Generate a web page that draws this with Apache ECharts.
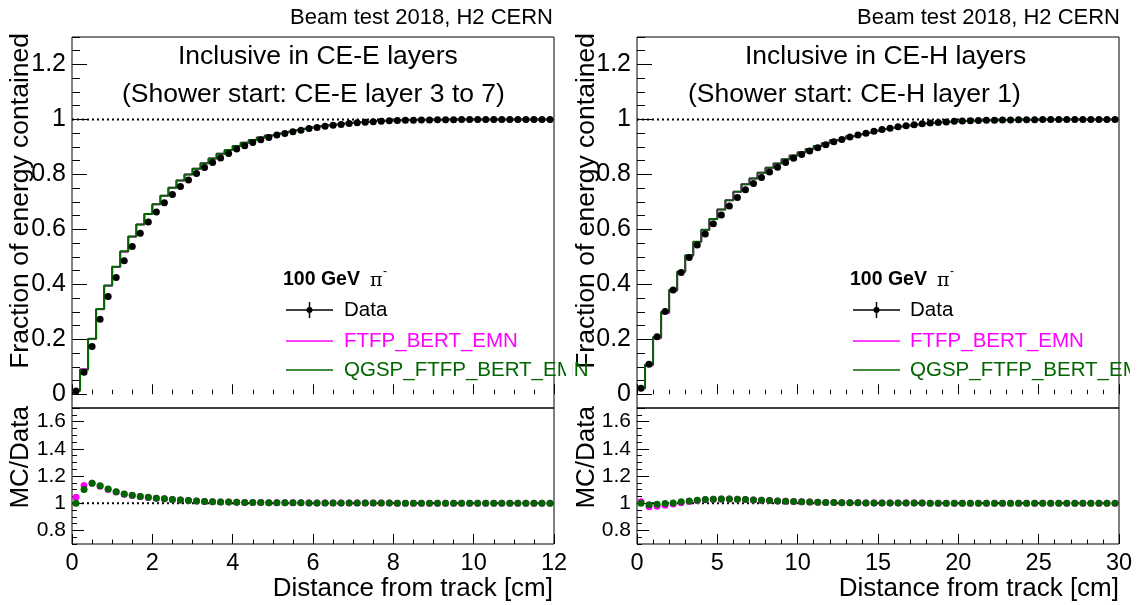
<!DOCTYPE html>
<html>
<head>
<meta charset="utf-8">
<script src="https://cdn.jsdelivr.net/npm/echarts@6/dist/echarts.min.js"></script>
<style>html,body{margin:0;padding:0;background:#fff}#c{width:1138px;height:605px}</style>
</head>
<body>
<div id="c"></div>
<script>
// ---------- DATA ----------
const leftBinWidth = 0.2;   // cm, 60 bins 0..12
const rightBinWidth = 0.5;  // cm, 60 bins 0..30

const leftData = [0.012,0.080,0.174,0.273,0.356,0.425,0.486,0.538,0.586,0.627,
  0.663,0.697,0.727,0.756,0.780,0.803,0.825,0.843,0.860,0.876,
  0.892,0.904,0.916,0.926,0.934,0.943,0.949,0.955,0.961,0.967,
  0.971,0.975,0.979,0.982,0.985,0.988,0.990,0.992,0.993,0.995,
  0.996,0.997,0.997,0.998,0.998,0.999,0.999,0.999,1.000,1.000,
  1.000,1.000,1.000,1.000,1.000,1.000,1.000,1.000,1.000,1.000];
const leftFTFP = [0.013,0.091,0.201,0.309,0.395,0.463,0.519,0.573,0.618,0.656,
  0.691,0.722,0.751,0.778,0.800,0.821,0.841,0.858,0.875,0.889,
  0.903,0.915,0.925,0.934,0.942,0.949,0.955,0.961,0.966,0.971,
  0.975,0.979,0.982,0.985,0.988,0.990,0.992,0.994,0.995,0.996,
  0.997,0.998,0.998,0.999,0.999,0.999,1.000,1.000,1.000,1.000,
  1.000,1.000,1.000,1.000,1.000,1.000,1.000,1.000,1.000,1.000];
const leftQGSP = [0.013,0.089,0.202,0.310,0.396,0.464,0.520,0.574,0.618,0.656,
  0.691,0.722,0.751,0.778,0.800,0.821,0.841,0.858,0.875,0.889,
  0.903,0.915,0.925,0.934,0.942,0.949,0.955,0.961,0.966,0.971,
  0.975,0.979,0.982,0.985,0.988,0.990,0.992,0.994,0.995,0.996,
  0.997,0.998,0.998,0.999,0.999,0.999,1.000,1.000,1.000,1.000,
  1.000,1.000,1.000,1.000,1.000,1.000,1.000,1.000,1.000,1.000];
const leftRatioFTFP = [1.043,1.130,1.147,1.125,1.101,1.082,1.066,1.057,1.049,1.042,
  1.037,1.032,1.027,1.023,1.019,1.016,1.013,1.011,1.009,1.008,
  1.007,1.006,1.005,1.005,1.004,1.004,1.003,1.003,1.003,1.002,
  1.002,1.002,1.002,1.001,1.001,1.001,1.001,1.001,1.001,1.001,
  1.000,1.000,1.000,1.000,1.000,1.000,1.000,1.000,1.000,1.000,
  1.000,1.000,1.000,1.000,1.000,1.000,1.000,1.000,1.000,1.000];
const leftRatioQGSP = [1.000,1.100,1.147,1.128,1.104,1.084,1.067,1.058,1.050,1.043,
  1.037,1.032,1.027,1.023,1.019,1.016,1.013,1.011,1.009,1.008,
  1.007,1.006,1.005,1.005,1.004,1.004,1.003,1.003,1.003,1.002,
  1.002,1.002,1.002,1.001,1.001,1.001,1.001,1.001,1.001,1.001,
  1.000,1.000,1.000,1.000,1.000,1.000,1.000,1.000,1.000,1.000,
  1.000,1.000,1.000,1.000,1.000,1.000,1.000,1.000,1.000,1.000];

const rightData = [0.022,0.109,0.209,0.301,0.379,0.443,0.498,0.543,0.583,0.620,
  0.652,0.685,0.716,0.744,0.767,0.789,0.809,0.826,0.843,0.859,
  0.872,0.885,0.897,0.908,0.919,0.927,0.936,0.943,0.950,0.957,
  0.963,0.968,0.973,0.977,0.981,0.984,0.987,0.989,0.991,0.993,
  0.994,0.995,0.996,0.997,0.997,0.998,0.998,0.999,0.999,0.999,
  1.000,1.000,1.000,1.000,1.000,1.000,1.000,1.000,1.000,1.000];
const rightFTFP = [0.022,0.106,0.204,0.296,0.377,0.445,0.504,0.554,0.598,0.638,
  0.672,0.706,0.737,0.764,0.785,0.806,0.824,0.840,0.855,0.869,
  0.881,0.892,0.903,0.913,0.924,0.931,0.939,0.946,0.952,0.959,
  0.965,0.970,0.974,0.978,0.982,0.985,0.988,0.990,0.992,0.993,
  0.994,0.995,0.996,0.997,0.997,0.998,0.998,0.999,0.999,0.999,
  1.000,1.000,1.000,1.000,1.000,1.000,1.000,1.000,1.000,1.000];
const rightQGSP = [0.022,0.108,0.208,0.300,0.380,0.447,0.506,0.555,0.599,0.638,
  0.672,0.706,0.737,0.764,0.785,0.806,0.824,0.840,0.855,0.869,
  0.881,0.892,0.903,0.913,0.924,0.931,0.939,0.946,0.952,0.959,
  0.965,0.970,0.974,0.978,0.982,0.985,0.988,0.990,0.992,0.993,
  0.994,0.995,0.996,0.997,0.997,0.998,0.998,0.999,0.999,0.999,
  1.000,1.000,1.000,1.000,1.000,1.000,1.000,1.000,1.000,1.000];
const rightRatioFTFP = [1.010,0.973,0.978,0.985,0.995,1.004,1.013,1.020,1.026,1.029,
  1.031,1.031,1.029,1.027,1.024,1.022,1.019,1.017,1.014,1.012,
  1.010,1.008,1.007,1.006,1.005,1.004,1.003,1.003,1.002,1.002,
  1.002,1.001,1.001,1.001,1.001,1.001,1.000,1.000,1.000,1.000,
  1.000,1.000,1.000,1.000,1.000,1.000,1.000,1.000,1.000,1.000,
  1.000,1.000,1.000,1.000,1.000,1.000,1.000,1.000,1.000,1.000];
const rightRatioQGSP = [1.000,0.988,0.993,0.998,1.002,1.010,1.017,1.022,1.027,1.029,
  1.031,1.031,1.029,1.027,1.024,1.022,1.019,1.017,1.014,1.012,
  1.010,1.008,1.007,1.006,1.005,1.004,1.003,1.003,1.002,1.002,
  1.002,1.001,1.001,1.001,1.001,1.001,1.000,1.000,1.000,1.000,
  1.000,1.000,1.000,1.000,1.000,1.000,1.000,1.000,1.000,1.000,
  1.000,1.000,1.000,1.000,1.000,1.000,1.000,1.000,1.000,1.000];

const topYLabels = [0, 0.2, 0.4, 0.6, 0.8, 1, 1.2];
const ratioYLabels = [0.8, 1, 1.2, 1.4, 1.6];

// ---------- helpers ----------
const FONT = "'Liberation Sans', Arial, Helvetica, sans-serif";
const MAG = '#ff00ff', GRN = '#006600';

function centers(vals, w) { return vals.map((v, i) => [+(i * w + w / 2).toFixed(3), v]); }
function steps(vals, w) {
  const p = [];
  vals.forEach((v, i) => { p.push([+(i * w).toFixed(3), v]); p.push([+((i + 1) * w).toFixed(3), v]); });
  return p;
}
function range(a, b, s) { const r = []; for (let k = Math.round(a / s); k <= Math.round(b / s); k++) r.push(+(k * s).toFixed(3)); return r; }
const fmt = v => String(+(+v).toFixed(1));

function xAxis(gridIndex, max, interval, minorSplit, labels) {
  return {
    type: 'value', gridIndex, min: 0, max, interval,
    axisLine: { show: false },
    axisTick: { show: true, inside: true, length: 10, lineStyle: { color: '#000', width: 1 } },
    minorTick: { show: true, splitNumber: minorSplit, length: 4.5, lineStyle: { color: '#000', width: 1 } },
    splitLine: { show: false }, minorSplitLine: { show: false },
    axisLabel: { show: labels, fontSize: 23.5, fontFamily: FONT, color: '#000', margin: 8, formatter: fmt,
      showMinLabel: true, showMaxLabel: true }
  };
}
function yMajor(gridIndex, min, max, vals, len, fs) {
  return {
    type: 'value', gridIndex, min, max, position: 'left',
    axisLine: { show: false },
    axisTick: { show: true, inside: true, length: len, customValues: vals, lineStyle: { color: '#000', width: 1 } },
    axisLabel: { show: true, customValues: vals, formatter: fmt, fontSize: fs, fontFamily: FONT, color: '#000', margin: 6 },
    splitLine: { show: false }, minorTick: { show: false }
  };
}
function yMinor(gridIndex, min, max, vals, len) {
  return {
    type: 'value', gridIndex, min, max, position: 'left', offset: 0,
    axisLine: { show: false },
    axisTick: { show: true, inside: true, length: len, customValues: vals, lineStyle: { color: '#000', width: 1 } },
    axisLabel: { show: false },
    splitLine: { show: false }, minorTick: { show: false }
  };
}
function dotted(xi, yi, xmax, y) {
  return { type: 'line', xAxisIndex: xi, yAxisIndex: yi, data: [[0, y], [xmax, y]], symbol: 'none', silent: true,
    lineStyle: { color: '#000', width: 2, type: [2, 3] }, z: 1 };
}
function hist(xi, yi, vals, w, color) {
  return { type: 'line', xAxisIndex: xi, yAxisIndex: yi, data: steps(vals, w), symbol: 'none', silent: true,
    lineStyle: { color, width: 2 }, z: 2 };
}
function pts(xi, yi, vals, w, color, z) {
  return { type: 'scatter', xAxisIndex: xi, yAxisIndex: yi, data: centers(vals, w), symbol: 'circle', symbolSize: 7,
    itemStyle: { color, opacity: 1 }, silent: true, z };
}

const minorTop = range(-0.05, 1.3, 0.05);
const minorRatio = range(0.7, 1.7, 0.05);

const grids = [
  { left: 72, top: 37, width: 482, height: 371 },
  { left: 72, top: 408, width: 482, height: 136 },
  { left: 637, top: 37, width: 482, height: 371 },
  { left: 637, top: 408, width: 482, height: 136 }
].map(g => Object.assign(g, { show: true, borderColor: '#000', borderWidth: 1, backgroundColor: 'transparent', containLabel: false, outerBoundsMode: 'none' }));

function txt(text, x, y, opts) {
  return Object.assign({ type: 'text', x, y, z: 50, silent: true,
    style: Object.assign({ text, fontFamily: FONT, fontSize: 20.5, fill: '#000', textAlign: 'left', textVerticalAlign: 'middle' }, opts || {}) });
}
function legend(x0, tx, yHead, yData, yMag, yGrn) {
  return [
    txt('100 GeV', x0, yHead, { fontWeight: 'bold', fontSize: 19.5 }),
    txt('π', x0 + 87, yHead + 1, { fontFamily: "'DejaVu Serif', 'Liberation Serif', serif", fontSize: 19 }),
    txt('-', x0 + 100, yHead - 8, { fontSize: 12 }),
    { type: 'line', z: 50, silent: true, shape: { x1: x0 + 3, y1: yData, x2: x0 + 50, y2: yData }, style: { stroke: '#000', lineWidth: 1.5 } },
    { type: 'line', z: 50, silent: true, shape: { x1: x0 + 26.5, y1: yData - 8, x2: x0 + 26.5, y2: yData + 8 }, style: { stroke: '#000', lineWidth: 1.5 } },
    { type: 'circle', z: 51, silent: true, shape: { cx: x0 + 26.5, cy: yData, r: 3 }, style: { fill: '#000' } },
    txt('Data', tx, yData),
    { type: 'line', z: 50, silent: true, shape: { x1: x0 + 3, y1: yMag, x2: x0 + 50, y2: yMag }, style: { stroke: MAG, lineWidth: 1.5 } },
    txt('FTFP_BERT_EMN', tx, yMag, { fill: MAG }),
    { type: 'line', z: 50, silent: true, shape: { x1: x0 + 3, y1: yGrn, x2: x0 + 50, y2: yGrn }, style: { stroke: GRN, lineWidth: 1.5 } },
    txt('QGSP_FTFP_BERT_EMN', tx, yGrn, { fill: GRN })
  ];
}

const graphics = [].concat(
  [
    txt('Beam test 2018, H2 CERN', 553, 18, { textAlign: 'right', fontSize: 22 }),
    txt('Beam test 2018, H2 CERN', 1120, 18, { textAlign: 'right', fontSize: 22 }),
    txt('Inclusive in CE-E layers', 178, 57, { fontSize: 26.5 }),
    txt('(Shower start: CE-E layer 3 to 7)', 122, 95, { fontSize: 26.5 }),
    txt('Inclusive in CE-H layers', 745, 57, { fontSize: 26.5 }),
    txt('(Shower start: CE-H layer 1)', 688, 95, { fontSize: 26.5 }),
    txt('Distance from track [cm]', 553, 589, { textAlign: 'right', fontSize: 26 }),
    txt('Distance from track [cm]', 1119, 589, { textAlign: 'right', fontSize: 26 }),
    Object.assign(txt('Fraction of energy contained', 21, 33, { textAlign: 'right', fontSize: 26.5 }), { rotation: Math.PI / 2 }),
    Object.assign(txt('MC/Data', 21, 406, { textAlign: 'right', fontSize: 26 }), { rotation: Math.PI / 2 }),
    Object.assign(txt('Fraction of energy contained', 587, 33, { textAlign: 'right', fontSize: 26.5 }), { rotation: Math.PI / 2 }),
    Object.assign(txt('MC/Data', 587, 406, { textAlign: 'right', fontSize: 26 }), { rotation: Math.PI / 2 })
  ],
  legend(283, 344, 280, 310, 341, 370),
  legend(850, 910, 280, 310, 341, 370),
  [
    { type: 'rect', z: 90, silent: true, shape: { x: 566, y: 356, width: 6, height: 30 }, style: { fill: '#fff' } },
    { type: 'rect', z: 90, silent: true, shape: { x: 1130, y: 356, width: 8, height: 30 }, style: { fill: '#fff' } }
  ]
);

const option = {
  animation: false,
  backgroundColor: '#fff',
  grid: grids,
  xAxis: [
    xAxis(0, 12, 2, 4, false), xAxis(1, 12, 2, 4, true),
    xAxis(2, 30, 5, 5, false), xAxis(3, 30, 5, 5, true)
  ],
  yAxis: [
    yMajor(0, -0.05, 1.3, topYLabels, 15, 25), yMinor(0, -0.05, 1.3, minorTop, 8),
    yMajor(1, 0.7, 1.7, ratioYLabels, 12, 21), yMinor(1, 0.7, 1.7, minorRatio, 5),
    yMajor(2, -0.05, 1.3, topYLabels, 15, 25), yMinor(2, -0.05, 1.3, minorTop, 8),
    yMajor(3, 0.7, 1.7, ratioYLabels, 12, 21), yMinor(3, 0.7, 1.7, minorRatio, 5)
  ],
  series: [
    dotted(0, 0, 12, 1),
    hist(0, 0, leftFTFP, leftBinWidth, MAG),
    hist(0, 0, leftQGSP, leftBinWidth, GRN),
    pts(0, 0, leftData, leftBinWidth, '#000', 5),
    dotted(1, 2, 12, 1),
    pts(1, 2, leftRatioFTFP, leftBinWidth, MAG, 4),
    pts(1, 2, leftRatioQGSP, leftBinWidth, GRN, 5),

    dotted(2, 4, 30, 1),
    hist(2, 4, rightFTFP, rightBinWidth, MAG),
    hist(2, 4, rightQGSP, rightBinWidth, GRN),
    pts(2, 4, rightData, rightBinWidth, '#000', 5),
    dotted(3, 6, 30, 1),
    pts(3, 6, rightRatioFTFP, rightBinWidth, MAG, 4),
    pts(3, 6, rightRatioQGSP, rightBinWidth, GRN, 5)
  ],
  graphic: graphics
};

const chart = echarts.init(document.getElementById('c'), null, { renderer: 'canvas', width: 1138, height: 605 });
chart.setOption(option);
</script>
</body>
</html>
